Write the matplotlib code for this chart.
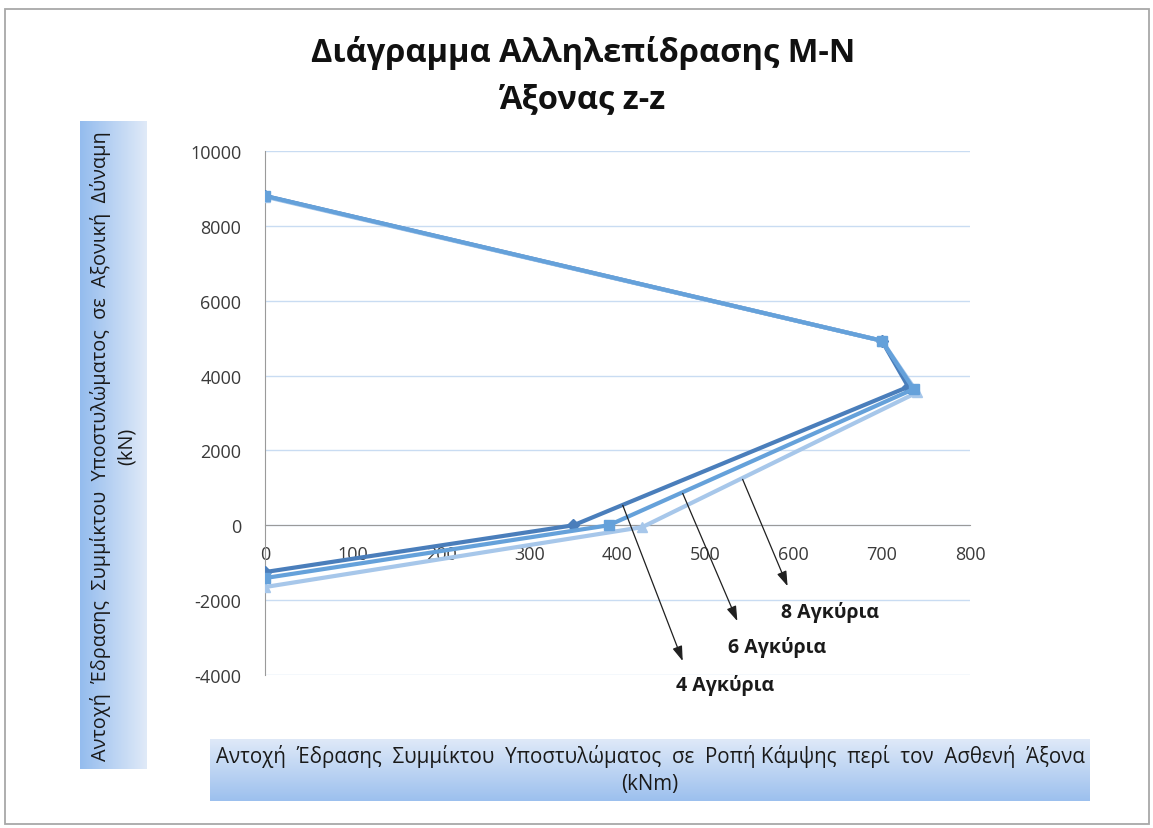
import numpy as np
import matplotlib.pyplot as plt
from matplotlib.patches import Rectangle
from matplotlib.colors import to_rgb

plt.rcParams['font.family'] = ['Open Sans', 'DejaVu Sans']
plt.rcParams['axes.unicode_minus'] = False

# Interaction curves (M in kNm, N in kN) for three anchor configurations
m_4 = [0, 350, 730, 700, 0]
n_4 = [-1250, 0, 3700, 4930, 8800]
m_6 = [0, 390, 736, 700, 0]
n_6 = [-1410, 0, 3640, 4930, 8800]
m_8 = [0, 428, 740, 700, 0]
n_8 = [-1650, -50, 3550, 4930, 8780]

labels = ['4 Αγκύρια', '6 Αγκύρια', '8 Αγκύρια']
x_ticks = list(range(0, 801, 100))
y_ticks = list(range(-4000, 10001, 2000))

title = 'Διάγραμμα Αλληλεπίδρασης Μ-Ν\nΆξονας z-z'
x_title = ('Αντοχή  Έδρασης  Συμμίκτου  Υποστυλώματος  σε  Ροπή Κάμψης  περί  τον  Ασθενή  Άξονα'
           '\n(kNm)')
y_title = ('Αντοχή  Έδρασης  Συμμίκτου  Υποστυλώματος  σε  Αξονική  Δύναμη'
           '\n(kN)')

W, H = 1153, 829
fig = plt.figure(figsize=(W / 100, H / 100), dpi=100)
fig.patch.set_facecolor('white')

# outer frame
fig.patches.append(Rectangle((5 / W, 4 / H), 1144 / W, 815 / H, transform=fig.transFigure,
                             fill=False, edgecolor='#A8A8A8', linewidth=1.3))

ax = fig.add_axes([265 / W, 1 - 676 / H, 705 / W, 524 / H])
ax.set_xlim(0, 800)
ax.set_ylim(-4000, 10000)
ax.set_xticks(x_ticks)
ax.set_yticks(y_ticks)
ax.grid(axis='y', color='#C9DCF2', linewidth=1.0)
ax.grid(axis='x', visible=False)
ax.set_axisbelow(True)
for s in ['top', 'right']:
    ax.spines[s].set_visible(False)
ax.spines['bottom'].set_position(('data', 0))
ax.spines['bottom'].set_color('#9A9A9A')
ax.spines['left'].set_color('#9A9A9A')
ax.spines['bottom'].set_zorder(1)
ax.tick_params(axis='both', length=0, labelsize=13, labelcolor='#3A3A3A')
ax.tick_params(axis='x', pad=14)
ax.tick_params(axis='y', pad=17)

series = {
    '4': (m_4, n_4, '#4A7EBB', 'D', 6),
    '8': (m_8, n_8, '#A7C7EA', '^', 7.5),
    '6': (m_6, n_6, '#65A1DA', 's', 6.5),
}
for i, (m, n, c, mk, ms) in enumerate(series.values()):
    ax.plot(m, n, color=c, linewidth=3, marker=mk, markersize=ms, zorder=3 + i,
            solid_capstyle='round', solid_joinstyle='round')

# callouts pointing to each curve
arrows = [
    ((406, 533), (474, -3627), (522, -4267)),
    ((474, 853), (536, -2560), (581, -3227)),
    ((542, 1227), (593, -1627), (641, -2293)),
]
for lab, (start, end, tpos) in zip(labels, arrows):
    ax.annotate('', xy=end, xytext=start,
                arrowprops=dict(arrowstyle='-|>,head_length=0.9,head_width=0.3',
                                color='#202020', linewidth=0.9, shrinkA=0, shrinkB=0),
                zorder=10, annotation_clip=False)
    ax.text(tpos[0], tpos[1], lab, ha='center', va='center', fontsize=14,
            fontweight='bold', color='#1A1A1A', zorder=10, clip_on=False)

fig.text(583 / W, 1 - 76 / H, title, ha='center', va='center', fontsize=23.5,
         fontweight='bold', color='#111111', linespacing=1.5)


def gradient_box(rect, vertical, c_from, c_to):
    bx = fig.add_axes(rect)
    c0 = np.array(to_rgb(c_from))
    c1 = np.array(to_rgb(c_to))
    t = np.linspace(0, 1, 256)
    grad = c0[None, :] * (1 - t[:, None]) + c1[None, :] * t[:, None]
    img = grad[:, None, :] if vertical else grad[None, :, :]
    bx.imshow(img, aspect='auto', extent=(0, 1, 0, 1), origin='upper', interpolation='bilinear')
    bx.set_xlim(0, 1)
    bx.set_ylim(0, 1)
    bx.axis('off')
    return bx


# y-axis title box (blue on the left fading to the right)
ybox = gradient_box([80 / W, 1 - 770 / H, 67 / W, 648 / H], False, '#94BCEE', '#E0EAF8')
ybox.text(0.5, 0.5, y_title, rotation=90, ha='center', va='center', fontsize=14.3,
          color='#1A1A1A', linespacing=1.35, multialignment='center')

# x-axis title box (light at the top fading to blue at the bottom)
xbox = gradient_box([210 / W, 1 - 802 / H, 880 / W, 62 / H], True, '#DFE9F8', '#9CC0EE')
xbox.text(0.5, 0.52, x_title, ha='center', va='center', fontsize=14.8,
          color='#1A1A1A', linespacing=1.4, multialignment='center')

fig.savefig('out.png', dpi=100, facecolor='white')
